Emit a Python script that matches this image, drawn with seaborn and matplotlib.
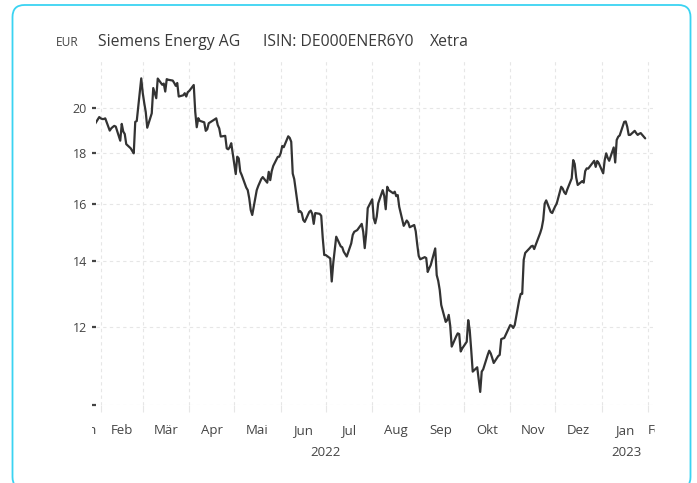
import pandas as pd
import seaborn as sns
import matplotlib
matplotlib.use("Agg")
import matplotlib.pyplot as plt
import matplotlib.dates as mdates
import matplotlib.transforms as mtransforms
from matplotlib.patches import FancyBboxPatch

# Schlusskurse Siemens Energy AG (Xetra), ein Wert pro Handelstag
start = "2022-01-28"
end = "2023-01-30"
holidays = ["2022-04-15", "2022-04-18", "2022-12-26"]

jan22 = [19.25, 19.58]
feb22 = [19.52, 19.49, 19.49, 19.52, 18.97, 19.07, 19.13, 19.18, 19.15, 18.53,
         19.27, 18.93, 18.82, 18.38, 18.20, 18.09, 17.99, 19.36, 19.40, 21.43]
mar22 = [20.71, 20.23, 19.81, 19.10, 19.75, 20.95, 20.71, 20.46, 21.42, 21.11,
         21.17, 20.78, 21.39, 21.36, 21.32, 21.20, 21.06, 21.20, 20.54, 20.60,
         20.70, 20.54, 20.75]
apr22 = [20.81, 21.10, 19.82, 19.12, 19.53, 19.41, 19.34, 18.96, 19.03, 19.30,
         19.52, 19.22, 19.07, 18.71, 18.74, 18.20, 18.16, 18.25, 18.42]
may22 = [17.14, 17.85, 17.78, 17.24, 17.10, 16.61, 16.51, 16.20, 15.76, 15.58,
         16.51, 16.67, 16.80, 16.94, 17.02, 16.80, 17.23, 16.90, 17.26, 17.47,
         17.84, 17.85]
jun22 = [18.00, 18.30, 18.25, 18.72, 18.65, 18.48, 17.16, 16.94, 15.69, 15.72,
         15.65, 15.40, 15.33, 15.69, 15.74, 15.62, 15.26, 15.65, 15.62, 15.55,
         14.77, 14.19]
jul22 = [14.19, 14.08, 13.34, 13.92, 14.36, 14.81, 14.48, 14.45, 14.30, 14.22,
         14.14, 14.58, 14.87, 14.98, 15.01, 15.04, 15.26, 14.98, 14.42, 14.93,
         15.83]
aug22 = [16.16, 15.46, 15.28, 15.52, 16.01, 16.51, 16.29, 15.79, 16.64, 16.51,
         16.39, 16.45, 16.28, 16.32, 15.88, 15.19, 15.28, 15.38, 15.31, 15.14,
         15.22, 15.00, 14.55]
sep22 = [14.16, 14.05, 14.12, 14.09, 13.64, 13.76, 13.86, 14.41, 13.54, 13.36,
         13.08, 12.63, 12.14, 12.19, 12.34, 12.03, 11.46, 11.74, 11.82, 11.80,
         11.33, 11.41]
oct22 = [11.59, 12.19, 11.91, 11.37, 10.81, 10.92, 10.60, 10.31, 10.81, 10.87,
         11.24, 11.35, 11.28, 11.16, 11.03, 11.21, 11.24, 11.66, 11.68, 11.69,
         11.96]
nov22 = [12.05, 12.03, 11.97, 12.05, 12.78, 12.96, 12.96, 14.03, 14.26, 14.42,
         14.48, 14.50, 14.39, 14.53, 14.94, 15.11, 15.40, 16.00, 16.12, 15.69,
         15.65, 15.78]
dec22 = [15.90, 16.00, 16.64, 16.57, 16.43, 16.36, 16.53, 16.97, 17.71, 17.55,
         17.00, 16.71, 16.86, 16.80, 17.26, 17.37, 17.36, 17.68, 17.43, 17.67,
         17.59]
jan23 = [17.17, 17.71, 17.99, 17.80, 17.68, 18.24, 17.61, 18.56, 18.70, 18.76,
         19.36, 19.38, 19.15, 18.78, 18.78, 18.96, 18.86, 18.78, 18.83, 18.86,
         18.63]

month_names = ["Jan", "Feb", "Mär", "Apr", "Mai", "Jun", "Jul", "Aug", "Sep",
               "Okt", "Nov", "Dez"]
y_ticks = [10, 12, 14, 16, 18, 20]
y_labels = ["", "12", "14", "16", "18", "20"]
title_parts = ["Siemens Energy AG", "ISIN: DE000ENER6Y0", "Xetra"]

days = pd.bdate_range(start, end)
days = days[~days.isin(pd.to_datetime(holidays))]
close = (jan22 + feb22 + mar22 + apr22 + may22 + jun22 + jul22 + aug22
         + sep22 + oct22 + nov22 + dec22 + jan23)
df = pd.DataFrame({"Datum": days, "Kurs": close})

sns.set_style("white")
plt.rcParams["font.family"] = ["Open Sans", "DejaVu Sans"]

W, H = 697, 483
fig = plt.figure(figsize=(W / 100, H / 100), dpi=100)
ax = fig.add_axes([95.5 / W, (H - 405) / H, 557.2 / W, 346 / H])

sns.lineplot(data=df, x="Datum", y="Kurs", ax=ax, color="#333333",
             linewidth=1.6, legend=False)

ax.set_yscale("log")
ax.set_ylim(10, 22.42)
x0 = pd.Timestamp("2022-01-28 12:00")
x1 = pd.Timestamp("2023-02-04")
ax.set_xlim(x0, x1)

for s in ax.spines.values():
    s.set_visible(False)

# y-Achse
ax.yaxis.set_major_locator(matplotlib.ticker.FixedLocator(y_ticks))
ax.yaxis.set_major_formatter(matplotlib.ticker.FixedFormatter(y_labels))
ax.yaxis.set_minor_locator(matplotlib.ticker.NullLocator())
ax.tick_params(axis="y", which="major", left=True, length=3, width=1.6,
               color="#444444", pad=3, labelsize=9, labelcolor="#444444")

# x-Achse: Gitter an Monatsanfängen, Beschriftung in Monatsmitte
month_starts = pd.date_range("2022-01-01", "2023-03-01", freq="MS")
mids = [a + (b - a) / 2 for a, b in zip(month_starts[:-1], month_starts[1:])]
ax.xaxis.set_major_locator(matplotlib.ticker.FixedLocator(mdates.date2num(month_starts)))
ax.xaxis.set_major_formatter(matplotlib.ticker.NullFormatter())
ax.xaxis.set_minor_locator(matplotlib.ticker.FixedLocator(mdates.date2num(mids)))
ax.xaxis.set_minor_formatter(matplotlib.ticker.FixedFormatter(
    [month_names[m.month - 1] for m in mids]))
ax.tick_params(axis="x", which="major", bottom=True, length=5, width=0.8,
               color="#e6e6e6")
ax.tick_params(axis="x", which="minor", bottom=True, length=0, pad=14,
               labelsize=9.5, labelcolor="#444444")

ax.grid(True, which="major", axis="both", color="#e6e6e6", linestyle=(0, (3, 3)),
        linewidth=0.8)
ax.set_xlabel("")
ax.set_ylabel("")

# angeschnittene Monatsnamen an den Rändern
tr = mtransforms.blended_transform_factory(ax.transData, ax.transAxes)
lab_y = -25 / 346
clip_l = mtransforms.Bbox.from_extents(92, 0, 97, H)
t = ax.text(mdates.date2num(x0) + 0.7, lab_y, "Jan", transform=tr, ha="right",
            va="center", fontsize=9.5, color="#444444", clip_on=True)
t.set_clip_box(clip_l)
clip_r = mtransforms.Bbox.from_extents(640, 0, 654.5, H)
t = ax.text(mdates.date2num(month_starts[-2]), lab_y, "Feb", transform=tr,
            ha="left", va="center", fontsize=9.5, color="#444444", clip_on=True)
t.set_clip_box(clip_r)

# Jahreszahlen
for d, s in [(pd.Timestamp("2022-07-01"), "2022"),
             (pd.Timestamp("2023-01-17 12:00"), "2023")]:
    ax.text(mdates.date2num(d), -47 / 346, s, transform=tr, ha="center",
            va="center", fontsize=9.5, color="#444444", clip_on=False)

# Kopfzeile
fig.text(56 / W, 1 - 42 / H, "EUR", fontsize=8.6, color="#444444",
         ha="left", va="center")
for xp, s in zip([98, 263, 430], title_parts):
    fig.text(xp / W, 1 - 42 / H, s, fontsize=11.3, color="#3a3a3a",
             ha="left", va="center")

# Kartenrahmen
card = FancyBboxPatch((12.5, -6), 678, 478 + 6,
                      boxstyle="round,pad=0,rounding_size=12",
                      transform=mtransforms.IdentityTransform(),
                      facecolor="none", edgecolor="#3ad3f2", linewidth=1.3)
fig.add_artist(card)

fig.savefig("out.png", dpi=100, facecolor="white")
